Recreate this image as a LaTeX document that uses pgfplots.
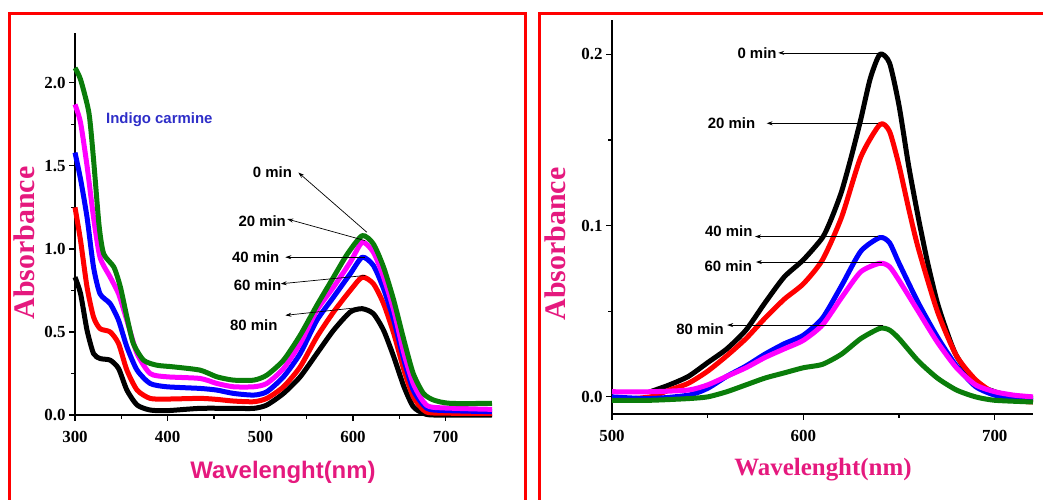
\documentclass[border=0pt]{standalone}
\usepackage{fontspec}
\setmainfont{Liberation Serif}
\newfontfamily\arial{Liberation Sans}
\usepackage{pgfplots}
\pgfplotsset{compat=1.18}
\usetikzlibrary{arrows.meta}
\definecolor{cgreen}{HTML}{0A7D0A}
\definecolor{cmag}{HTML}{FF00FF}
\definecolor{cblue}{HTML}{0000FF}
\definecolor{cred}{HTML}{FF0000}
\definecolor{lblpink}{HTML}{E5197E}
\definecolor{lblblue}{HTML}{2E2EC8}

\pgfplotsset{
  spec/.style={
    scale only axis,
    axis x line*=bottom, axis y line*=left,
    axis line style={line width=1.4bp},
    tick style={line width=1.2bp, black},
    tick align=outside,
    major tick length=6bp, minor tick length=4bp,
    minor tick num=1,
    ticklabel style={font=\fontsize{17}{19}\selectfont\bfseries},
    /pgf/number format/assume math mode=true,
    clip=false,
  },
  curve/.style={line width=5bp, line join=round, smooth, tension=0.4},
}
\tikzset{
  ann/.style={line width=0.7bp, -{Stealth[length=6bp,width=4bp]}},
  annlbl/.style={font=\arial\fontsize{15}{17}\selectfont\bfseries},
}

\begin{document}
\begin{tikzpicture}
\useasboundingbox (0,0) rectangle (1043bp,500bp);
\draw[cred, line width=3bp] (9.5bp,-20bp) rectangle (525bp,486.5bp);
\draw[cred, line width=3bp] (539.5bp,-20bp) rectangle (1060bp,486.5bp);

% ---------------- left panel ----------------
\begin{axis}[spec,
  at={(75bp,85bp)}, anchor=south west,
  width=417bp, height=382bp,
  xmin=300, xmax=750, ymin=0, ymax=2.3,
  xtick={300,400,500,600,700},
  ytick={0,0.5,1.0,1.5,2.0},
  yticklabel style={/pgf/number format/.cd, fixed, fixed zerofill, precision=1},
  xticklabel style={yshift=-7bp},
]
\addplot[curve, black] coordinates {
(300,0.83) (306,0.73) (313,0.51) (320,0.37) (327,0.34) (338,0.33) (347,0.28)
(356,0.15) (367,0.06) (381,0.03) (399,0.026) (435,0.04) (471,0.04) (493,0.04)
(507,0.06) (525,0.13) (543,0.23) (561,0.37) (579,0.51) (597,0.62) (610,0.64)
(622,0.61) (633,0.51) (644,0.35) (655,0.17) (665,0.05) (676,0.01) (687,0.0) (750,0.0)};
\addplot[curve, cred] coordinates {
(300,1.25) (306,1.05) (313,0.77) (320,0.59) (327,0.52) (338,0.50) (347,0.43)
(356,0.27) (367,0.15) (381,0.10) (399,0.096) (435,0.10) (453,0.094) (471,0.084)
(493,0.08) (507,0.10) (525,0.17) (543,0.29) (561,0.47) (579,0.62) (597,0.75)
(610,0.83) (622,0.79) (633,0.67) (644,0.49) (655,0.27) (665,0.11) (676,0.03)
(687,0.012) (750,0.01)};
\addplot[curve, cblue] coordinates {
(300,1.58) (306,1.42) (313,1.19) (320,0.89) (327,0.73) (338,0.67) (347,0.57)
(356,0.41) (367,0.27) (381,0.19) (399,0.17) (435,0.16) (453,0.15) (471,0.13)
(493,0.12) (507,0.14) (525,0.23) (543,0.37) (561,0.57) (579,0.71) (597,0.85)
(610,0.95) (622,0.90) (633,0.76) (644,0.57) (655,0.33) (665,0.15) (676,0.06)
(687,0.03) (750,0.02)};
\addplot[curve, cmag] coordinates {
(300,1.87) (306,1.76) (313,1.50) (320,1.19) (327,0.95) (338,0.83) (347,0.73)
(356,0.57) (367,0.37) (381,0.25) (399,0.23) (435,0.22) (453,0.19) (471,0.17)
(493,0.17) (507,0.19) (525,0.28) (543,0.43) (561,0.63) (579,0.77) (597,0.92)
(610,1.04) (622,0.98) (633,0.83) (644,0.63) (655,0.37) (665,0.19) (676,0.08)
(687,0.046) (750,0.034)};
\addplot[curve, cgreen] coordinates {
(300,2.09) (306,2.02) (315,1.82) (320,1.54) (326,1.14) (331,0.97) (342,0.89)
(349,0.77) (356,0.59) (363,0.43) (374,0.33) (388,0.30) (406,0.29) (435,0.27)
(453,0.23) (471,0.21) (493,0.21) (507,0.24) (525,0.33) (543,0.48) (561,0.66)
(579,0.83) (594,0.97) (610,1.08) (622,1.03) (633,0.89) (644,0.69) (655,0.45)
(665,0.25) (676,0.13) (687,0.09) (705,0.07) (750,0.07)};

\draw[ann] (axis cs:615,1.10) -- (axis cs:541,1.46);
\draw[ann] (axis cs:613,1.05) -- (axis cs:529,1.18);
\draw[ann] (axis cs:613,0.95) -- (axis cs:527,0.95);
\draw[ann] (axis cs:613,0.84) -- (axis cs:522,0.79);
\draw[ann] (axis cs:611,0.65) -- (axis cs:527,0.60);
\node[annlbl] at (axis cs:513,1.46) {0 min};
\node[annlbl] at (axis cs:502,1.17) {20 min};
\node[annlbl] at (axis cs:495,0.95) {40 min};
\node[annlbl] at (axis cs:497,0.78) {60 min};
\node[annlbl] at (axis cs:493,0.54) {80 min};
\node[font=\arial\fontsize{15}{17}\selectfont\bfseries, text=lblblue]
  at (axis cs:391,1.78) {Indigo carmine};
\end{axis}

\node[rotate=90, text=lblpink, font=\fontsize{30}{32}\selectfont\bfseries]
  at (24bp,257bp) {Absorbance};
\node[text=lblpink, font=\arial\fontsize{24}{26}\selectfont\bfseries]
  at (283bp,28bp) {Wavelenght(nm)};

% ---------------- right panel ----------------
\begin{axis}[spec,
  at={(612bp,86bp)}, anchor=south west,
  width=421bp, height=394bp,
  xmin=500, xmax=720, ymin=-0.01, ymax=0.22,
  xtick={500,600,700},
  minor xtick={550,650},
  ytick={0,0.1,0.2},
  minor ytick={0.05,0.15},
  minor tick num=0,
  yticklabel style={/pgf/number format/.cd, fixed, fixed zerofill, precision=1},
  xticklabel style={yshift=-7bp},
]
\addplot[curve, black] coordinates {
(520,0.003) (530,0.007) (540,0.012) (550,0.020) (560,0.028) (570,0.039)
(580,0.055) (590,0.070) (600,0.080) (610,0.093) (615,0.105) (620,0.120)
(625,0.140) (630,0.162) (635,0.186) (640,0.200) (645,0.195) (650,0.170)
(655,0.135) (660,0.105) (665,0.078) (670,0.055) (675,0.038) (680,0.024)
(690,0.008) (700,0.003) (710,0.000) (720,-0.001)};
\addplot[curve, cred] coordinates {
(500,-0.002) (520,0.0) (530,0.004) (540,0.008) (550,0.015) (560,0.024)
(570,0.034) (580,0.046) (590,0.057) (600,0.066) (610,0.080) (620,0.105)
(630,0.140) (640,0.159) (645,0.155) (650,0.135) (655,0.110) (660,0.087)
(670,0.050) (680,0.024) (690,0.010) (700,0.002) (710,-0.002) (720,-0.003)};
\addplot[curve, cblue] coordinates {
(500,0.0) (520,-0.001) (540,0.001) (550,0.005) (560,0.012) (570,0.018)
(580,0.025) (590,0.031) (600,0.036) (610,0.046) (620,0.065) (630,0.085)
(640,0.093) (645,0.090) (650,0.078) (660,0.055) (670,0.035) (680,0.018)
(690,0.006) (700,0.001) (710,-0.001) (720,-0.002)};
\addplot[curve, cmag] coordinates {
(500,0.003) (520,0.003) (540,0.004) (550,0.007) (560,0.012) (570,0.017)
(580,0.023) (590,0.028) (600,0.033) (610,0.042) (620,0.058) (630,0.073)
(640,0.078) (645,0.076) (650,0.068) (660,0.050) (670,0.032) (680,0.017)
(690,0.007) (700,0.003) (710,0.001) (720,0.0)};
\addplot[curve, cgreen] coordinates {
(500,-0.002) (520,-0.002) (540,-0.001) (550,0.0) (560,0.003) (570,0.007)
(580,0.011) (590,0.014) (600,0.017) (610,0.019) (620,0.025) (630,0.034)
(640,0.040) (645,0.039) (650,0.034) (660,0.021) (670,0.011) (680,0.004)
(690,0.0) (700,-0.002) (720,-0.003)};

\draw[ann] (axis cs:639,0.2008) -- (axis cs:586.9,0.2008);
\draw[ann] (axis cs:639,0.1597) -- (axis cs:580.8,0.1597);
\draw[ann] (axis cs:639,0.0936) -- (axis cs:574.7,0.0936);
\draw[ann] (axis cs:641,0.0787) -- (axis cs:575.2,0.0787);
\draw[ann] (axis cs:641.6,0.0419) -- (axis cs:560.2,0.0419);
\node[annlbl] at (axis cs:575.8,0.2006) {0 min};
\node[annlbl] at (axis cs:562.5,0.160) {20 min};
\node[annlbl] at (axis cs:561,0.097) {40 min};
\node[annlbl] at (axis cs:560.8,0.0764) {60 min};
\node[annlbl] at (axis cs:546,0.0395) {80 min};
\end{axis}

\node[rotate=90, text=lblpink, font=\fontsize{30}{32}\selectfont\bfseries]
  at (555bp,256bp) {Absorbance};
\node[text=lblpink, font=\fontsize{25}{27}\selectfont\bfseries]
  at (823bp,30bp) {Wavelenght(nm)};
\end{tikzpicture}
\end{document}
